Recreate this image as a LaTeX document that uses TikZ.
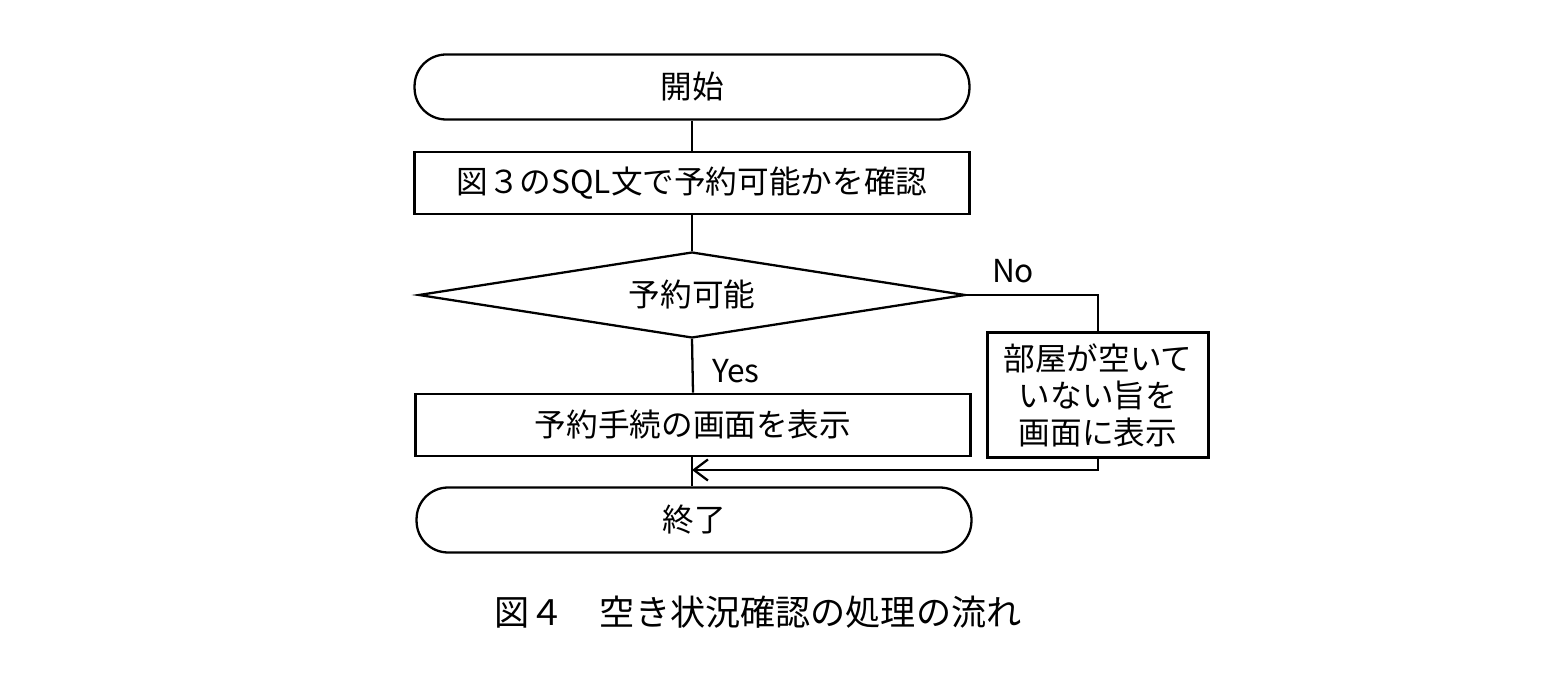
\documentclass[tikz,border=0pt]{standalone}
\usepackage{fontspec}
\setmainfont{Noto Sans CJK JP}
\usetikzlibrary{shapes.geometric,arrows.meta}
\begin{document}
\begin{tikzpicture}[x=0.02cm,y=-0.02cm,line width=1.3pt,
  txt/.style={font=\fontsize{18}{22}\selectfont},
  term/.style={draw,rounded corners=0.63cm,minimum width=11.1cm,minimum height=1.3cm,txt},
  proc/.style={draw,minimum width=11.1cm,minimum height=1.25cm,txt},
  dec/.style={draw,diamond,aspect=6.4,minimum width=10.94cm,minimum height=1.72cm,inner sep=0pt,txt}]
\useasboundingbox (0,0) rectangle (1548,678);
\node[term] (start) at (692,87) {開始};
\node[proc] (p1) at (692,183) {図３のSQL文で予約可能かを確認};
\node[dec] (d) at (692,295) {予約可能};
\node[proc] (p2) at (693,425) {予約手続の画面を表示};
\node[term] (end) at (694,520) {終了};
\node[draw,minimum width=4.42cm,minimum height=2.5cm,align=center,inner sep=1pt,
  font=\fontsize{18}{21}\selectfont] (side) at (1098,395) {部屋が空いて\\いない旨を\\画面に表示};
\node[txt,anchor=south west] (no) at (985,290) {No};
\node[txt,anchor=south west] (yes) at (705,390) {Yes};
\node[font=\fontsize{20}{24}\selectfont] (cap) at (758,612) {図４　空き状況確認の処理の流れ};
\coordinate (m) at (692,470);
\draw (start) -- (p1);
\draw (p1) -- (d);
\draw (d.south) -- (p2.north);
\draw (p2.south -| m) -- (end.north -| m);
\draw (d.east) -| (side.north);
\draw[-{Straight Barb[length=8pt,width=12pt]}] (side.south) |- (m);
\end{tikzpicture}
\end{document}
